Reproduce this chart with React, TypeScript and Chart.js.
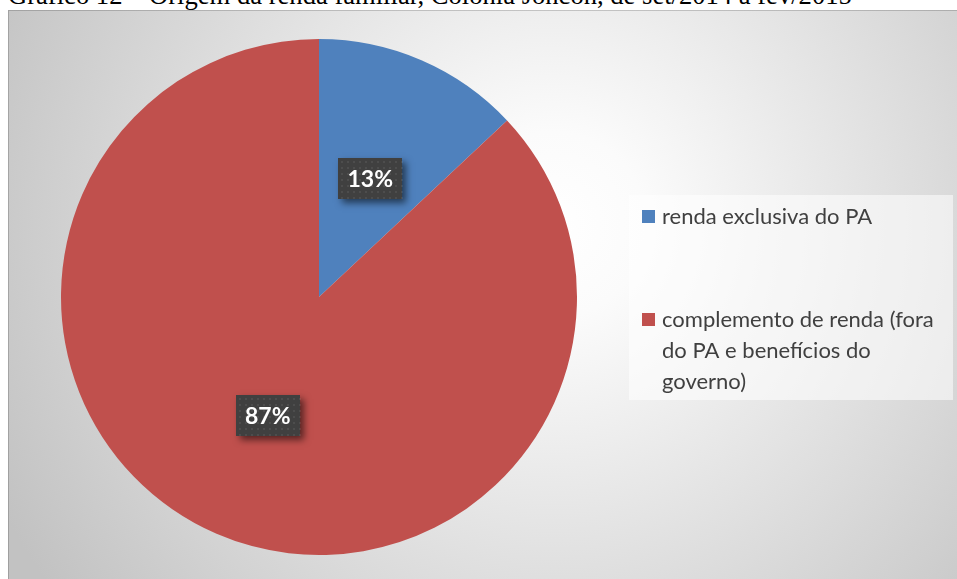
import React, { useEffect, useRef } from "react";
import { Chart, registerables } from "chart.js";

Chart.register(...registerables);

const titleText = "Gráfico 12 – Origem da renda familiar, Colônia Joncon, de set/2014 a fev/2015";
const categories = ["renda exclusiva do PA", "complemento de renda (fora do PA e benefícios do governo)"];
const values = [13, 87];
const sliceColors = ["#4F81BD", "#C0504D"];

const W = 949;
const H = 569;

function wrap(ctx: CanvasRenderingContext2D, text: string, maxW: number): string[] {
  const words = text.split(" ");
  const lines: string[] = [];
  let cur = "";
  for (const w of words) {
    const t = cur ? cur + " " + w : w;
    if (ctx.measureText(t).width > maxW && cur) {
      lines.push(cur);
      cur = w;
    } else cur = t;
  }
  if (cur) lines.push(cur);
  return lines;
}

const bgPlugin = {
  id: "bgPlugin",
  beforeDraw(chart: any) {
    const ctx = chart.ctx as CanvasRenderingContext2D;
    ctx.save();
    const g = ctx.createRadialGradient(545, 215, 0, 545, 215, 620);
    g.addColorStop(0, "#ffffff");
    g.addColorStop(0.15, "#fbfbfb");
    g.addColorStop(1, "#c2c2c2");
    ctx.fillStyle = g;
    ctx.fillRect(0, 0, W, H);
    ctx.strokeStyle = "rgba(0,0,0,0.18)";
    ctx.lineWidth = 1;
    ctx.strokeRect(0.5, 0.5, W + 5, H + 5);
    ctx.restore();
  },
};

const labelPlugin = {
  id: "labelPlugin",
  afterDatasetsDraw(chart: any) {
    const ctx = chart.ctx as CanvasRenderingContext2D;
    const meta = chart.getDatasetMeta(0);
    const total = values.reduce((a, b) => a + b, 0);
    meta.data.forEach((arc: any, i: number) => {
      const p = arc.getProps(["x", "y", "startAngle", "endAngle", "outerRadius"], true);
      const mid = (p.startAngle + p.endAngle) / 2;
      const r = p.outerRadius * 0.5;
      const cx = p.x + Math.cos(mid) * r;
      const cy = p.y + Math.sin(mid) * r;
      const txt = Math.round((values[i] / total) * 100) + "%";
      const bw = 64, bh = 41;
      const x0 = Math.round(cx - bw / 2), y0 = Math.round(cy - bh / 2);
      ctx.save();
      ctx.shadowColor = "rgba(0,0,0,0.55)";
      ctx.shadowBlur = 7;
      ctx.shadowOffsetX = 4;
      ctx.shadowOffsetY = 4;
      ctx.fillStyle = "#404040";
      ctx.fillRect(x0, y0, bw, bh);
      ctx.restore();
      ctx.save();
      ctx.fillStyle = "rgba(255,255,255,0.07)";
      for (let yy = y0 + 3; yy < y0 + bh; yy += 6) {
        for (let xx = x0 + 3; xx < x0 + bw; xx += 6) {
          ctx.fillRect(xx, yy, 2, 2);
        }
      }
      ctx.fillStyle = "#ffffff";
      ctx.font = "bold 23px Lato";
      ctx.textAlign = "center";
      ctx.textBaseline = "middle";
      ctx.fillText(txt, cx, cy + 1);
      ctx.restore();
    });
  },
};

const legendPlugin = {
  id: "legendPlugin",
  afterDraw(chart: any) {
    const ctx = chart.ctx as CanvasRenderingContext2D;
    ctx.save();
    ctx.fillStyle = "rgba(255,255,255,0.55)";
    ctx.fillRect(621, 185, 324, 205);
    ctx.font = "22px Lato";
    ctx.textBaseline = "middle";
    const itemY = [207, 310];
    const lineH = 31;
    categories.forEach((c, i) => {
      ctx.fillStyle = sliceColors[i];
      ctx.fillRect(634, itemY[i] - 7, 13, 13);
      ctx.fillStyle = "#404040";
      const lines = wrap(ctx, c, 288);
      lines.forEach((ln, k) => ctx.fillText(ln, 654, itemY[i] + k * lineH));
    });
    ctx.restore();
  },
};

export default function App() {
  const ref = useRef<HTMLCanvasElement>(null);
  useEffect(() => {
    if (!ref.current) return;
    const chart = new Chart(ref.current, {
      type: "pie",
      data: {
        labels: categories,
        datasets: [
          {
            data: values,
            backgroundColor: sliceColors,
            borderWidth: 0,
            hoverOffset: 0,
          },
        ],
      },
      options: {
        responsive: false,
        animation: false,
        layout: { padding: { left: 53, right: 380, top: 29, bottom: 24 } },
        plugins: {
          legend: { display: false },
          tooltip: { enabled: false },
          title: { display: false },
        },
      },
      plugins: [bgPlugin, labelPlugin, legendPlugin],
    });
    return () => chart.destroy();
  }, []);
  return (
    <div
      style={{
        position: "fixed",
        left: 0,
        top: 0,
        width: 957,
        height: 579,
        overflow: "hidden",
        background: "#fff",
      }}
    >
      <div
        style={{
          position: "absolute",
          left: 8,
          top: -18.5,
          fontFamily: "'Liberation Serif', 'Times New Roman', serif",
          fontSize: 26.6,
          lineHeight: "27px",
          whiteSpace: "nowrap",
          color: "#000",
        }}
      >
        {titleText}
      </div>
      <canvas
        ref={ref}
        width={W}
        height={H}
        style={{ position: "absolute", left: 8, top: 10, width: W, height: H }}
      />
    </div>
  );
}
